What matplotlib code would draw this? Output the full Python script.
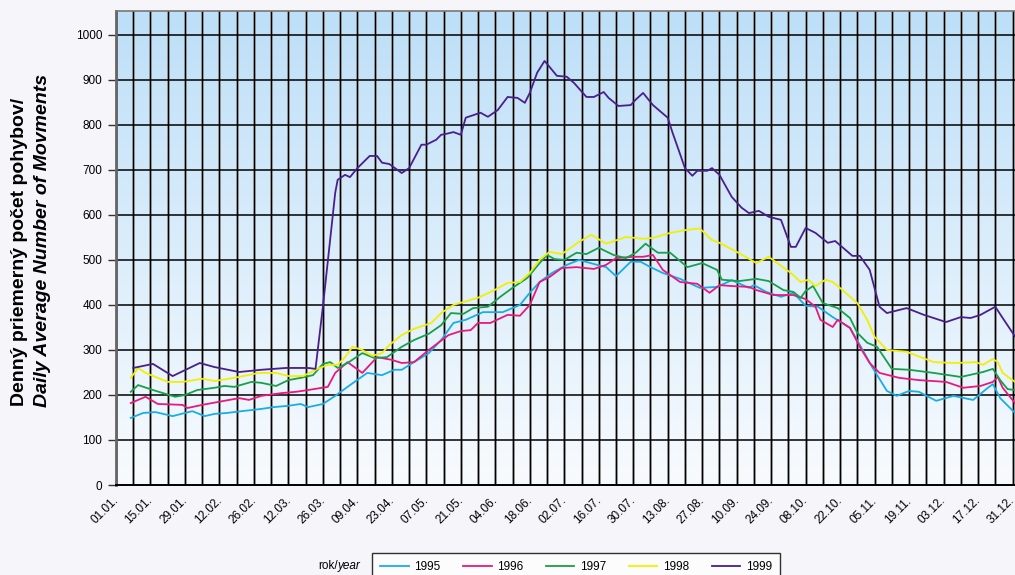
import numpy as np
import matplotlib
matplotlib.use("Agg")
import matplotlib.pyplot as plt
import matplotlib.transforms as mtransforms
from matplotlib.colors import LinearSegmentedColormap

plt.rcParams['font.family'] = ['Liberation Sans', 'DejaVu Sans']

# day of year (0 = 01.01.) and daily average movements
days_1995 = [6, 11, 16, 23, 28, 31, 36, 40, 45, 51, 59, 64, 70, 75, 78, 84, 89, 94,
             102, 108, 113, 116, 121, 127, 132, 137, 142, 149, 157, 164, 168, 172,
             177, 183, 188, 194, 199, 203, 209, 213, 217, 222, 229, 237, 244, 250,
             257, 259, 264, 270, 275, 280, 285, 291, 298, 302, 307, 313, 317, 322,
             326, 333, 340, 348, 354, 356, 359, 365]
vals_1995 = [149, 160, 162, 153, 160, 164, 153, 158, 160, 164, 169, 173, 176, 180,
             173, 180, 198, 218, 249, 244, 256, 256, 273, 293, 322, 360, 367, 384,
             384, 400, 427, 451, 471, 489, 500, 491, 484, 464, 496, 496, 484, 471,
             458, 438, 440, 455, 438, 444, 429, 418, 427, 398, 396, 373, 349, 311,
             262, 209, 198, 209, 207, 187, 198, 189, 216, 224, 193, 160]

days_1996 = [6, 12, 17, 27, 29, 35, 41, 50, 54, 59, 67, 73, 78, 86, 89, 94, 100,
             106, 112, 116, 121, 127, 135, 140, 144, 147, 152, 159, 164, 168, 172,
             176, 181, 187, 194, 199, 203, 210, 214, 218, 222, 229, 236, 241, 245,
             250, 257, 260, 267, 275, 280, 284, 286, 291, 293, 298, 302, 306, 310,
             318, 326, 337, 344, 351, 356, 358, 360, 365]
vals_1996 = [182, 196, 180, 178, 171, 178, 184, 193, 189, 198, 204, 207, 211, 218,
             249, 273, 249, 284, 278, 271, 273, 300, 333, 342, 344, 360, 360, 378,
             376, 400, 451, 462, 482, 484, 480, 489, 504, 507, 507, 511, 478, 451,
             447, 427, 444, 442, 440, 433, 422, 422, 413, 396, 367, 351, 367, 349,
             307, 271, 249, 238, 233, 229, 216, 220, 229, 240, 216, 182]

days_1997 = [6, 9, 15, 24, 28, 33, 40, 44, 48, 55, 59, 65, 70, 75, 80, 84, 87, 90,
             94, 100, 105, 110, 116, 121, 127, 132, 136, 141, 145, 151, 156, 161,
             167, 172, 175, 178, 182, 187, 191, 196, 202, 207, 211, 215, 220, 225,
             232, 238, 244, 246, 253, 260, 265, 271, 275, 278, 280, 283, 287, 293,
             298, 301, 305, 309, 315, 322, 332, 343, 352, 356, 359, 362, 365]
vals_1997 = [207, 222, 211, 196, 200, 211, 216, 220, 218, 229, 227, 220, 233, 238,
             244, 269, 273, 260, 271, 293, 282, 284, 307, 322, 336, 355, 382, 380,
             393, 396, 418, 438, 460, 493, 511, 502, 500, 516, 513, 527, 511, 504,
             516, 536, 516, 516, 484, 493, 478, 456, 453, 458, 453, 433, 429, 416,
             431, 442, 404, 393, 371, 338, 316, 307, 258, 256, 249, 240, 251, 258,
             233, 213, 211]

days_1998 = [6, 9, 12, 21, 27, 35, 40, 48, 58, 65, 70, 76, 81, 86, 90, 93, 96, 100,
             104, 108, 111, 116, 121, 128, 132, 137, 147, 153, 159, 164, 168, 172,
             176, 181, 188, 193, 199, 207, 214, 218, 225, 232, 237, 242, 245, 252,
             260, 265, 274, 278, 281, 284, 288, 291, 295, 301, 305, 308, 313, 321,
             332, 341, 349, 352, 356, 358, 360, 365]
vals_1998 = [238, 260, 249, 229, 229, 236, 231, 238, 249, 249, 242, 242, 256, 267,
             267, 284, 307, 300, 287, 293, 311, 333, 347, 360, 382, 400, 416, 431,
             449, 451, 471, 500, 518, 513, 540, 556, 536, 551, 547, 549, 560, 567,
             570, 544, 538, 518, 493, 507, 471, 451, 456, 442, 456, 451, 433, 404,
             367, 329, 300, 296, 273, 271, 273, 267, 280, 273, 249, 229]

days_1999 = [7, 15, 23, 34, 40, 50, 59, 69, 78, 81, 84, 89, 90, 93, 95, 98, 103,
             106, 108, 111, 116, 119, 124, 126, 130, 132, 134, 137, 140, 142, 148,
             151, 155, 159, 163, 166, 168, 171, 174, 176, 179, 183, 186, 191, 194,
             198, 200, 204, 209, 211, 214, 218, 224, 226, 228, 231, 234, 236, 240,
             242, 245, 250, 254, 257, 261, 265, 270, 274, 276, 280, 284, 289, 292,
             299, 302, 306, 310, 313, 321, 328, 337, 343, 347, 351, 357, 360, 365]
vals_1999 = [260, 269, 242, 271, 262, 251, 256, 260, 260, 258, 396, 649, 678, 689,
             684, 704, 731, 731, 716, 713, 693, 704, 756, 756, 767, 778, 780, 784,
             778, 816, 827, 818, 833, 862, 860, 849, 871, 916, 942, 929, 909, 907,
             893, 862, 862, 873, 860, 842, 844, 856, 871, 844, 816, 782, 751, 704,
             687, 698, 698, 704, 689, 640, 616, 604, 609, 596, 589, 529, 529, 571,
             560, 538, 542, 509, 509, 478, 396, 382, 393, 378, 362, 373, 371, 378,
             396, 371, 330]

years = ["1995", "1996", "1997", "1998", "1999"]
colors = ["#19ADE8", "#E8197D", "#16A04A", "#F2F000", "#4A1E8E"]

tick_labels = ["01.01.", "15.01.", "29.01.", "12.02.", "26.02.", "12.03.", "26.03.",
               "09.04.", "23.04.", "07.05.", "21.05.", "04.06.", "18.06.", "02.07.",
               "16.07.", "30.07.", "13.08.", "27.08.", "10.09.", "24.09.", "08.10.",
               "22.10.", "05.11.", "19.11.", "03.12.", "17.12.", "31.12."]

W, H = 1015, 575
fig = plt.figure(figsize=(W / 100, H / 100), dpi=100)
fig.patch.set_facecolor("#F5F5FA")
ax = fig.add_axes([116 / W, 1 - 485 / H, (W - 116) / W, (485 - 11) / H])
ax.set_xlim(0, 365)
ax.set_ylim(0, 1053)

# vertical blue-to-white gradient in the plot area
cmap = LinearSegmentedColormap.from_list("bg", ["#F8FBFE", "#BDDFF8"])
grad = np.linspace(0, 1, 256).reshape(-1, 1)
ax.imshow(grad, cmap=cmap, origin="lower", aspect="auto",
          extent=[0, 1, 0, 1], transform=ax.transAxes, zorder=0)

# grid
for d in range(0, 365, 7):
    ax.axvline(d, color="#9A9A9A", lw=1.9, zorder=1)
    ax.axvline(d, color="black", lw=0.9, zorder=1.1)
for v in range(100, 1001, 100):
    ax.axhline(v, color="black", lw=1.1, zorder=1.2)

series = [(days_1995, vals_1995), (days_1996, vals_1996), (days_1997, vals_1997),
          (days_1998, vals_1998), (days_1999, vals_1999)]
handles = []
for (d, v), c, yr in zip(series, colors, years):
    h, = ax.plot(d, v, color=c, lw=1.3, zorder=3, label=yr)
    handles.append(h)

ax.set_yticks(range(0, 1001, 100))
ax.set_xticks(range(0, 365, 14))
ax.set_xticklabels(tick_labels, rotation=45, ha="right", va="top",
                   rotation_mode="anchor")
ax.tick_params(axis="y", labelsize=8.5, length=6, width=1, color="#333333", pad=4)
ax.tick_params(axis="x", labelsize=8.5, length=0, pad=7)
shift = mtransforms.ScaledTranslation(-4 / 100, 0, fig.dpi_scale_trans)
for lab in ax.get_xticklabels():
    lab.set_transform(lab.get_transform() + shift)

ax.spines["right"].set_visible(False)
ax.spines["left"].set_color("#666666")
ax.spines["left"].set_linewidth(2)
ax.spines["top"].set_color("#777777")
ax.spines["top"].set_linewidth(1.2)
ax.spines["bottom"].set_color("black")
ax.spines["bottom"].set_linewidth(1.4)

# y axis title in two lines
fig.text(20 / W, 1 - 252 / H, "Denný priemerný počet pohybov/", rotation=90,
         ha="center", va="center", fontsize=14, fontweight="bold")
fig.text(43 / W, 1 - 240 / H, "Daily Average Number of Movments", rotation=90,
         ha="center", va="center", fontsize=14, fontweight="bold", style="italic")

leg = fig.legend(handles=handles, loc="upper left", ncol=5,
                 bbox_to_anchor=(372 / W, 1 - 553 / H), fontsize=8.5,
                 frameon=True, fancybox=False, handlelength=2.4,
                 columnspacing=1.9, handletextpad=0.5, borderpad=0.7,
                 borderaxespad=0)
leg.get_frame().set_edgecolor("black")
leg.get_frame().set_linewidth(1)
leg.get_frame().set_facecolor("white")

fig.text(338 / W, 1 - 566 / H, "rok/", ha="right", va="center", fontsize=8.5)
fig.text(338 / W, 1 - 566 / H, "year", ha="left", va="center", fontsize=8.5,
         style="italic")

fig.savefig("out.png", dpi=100, facecolor=fig.get_facecolor())
